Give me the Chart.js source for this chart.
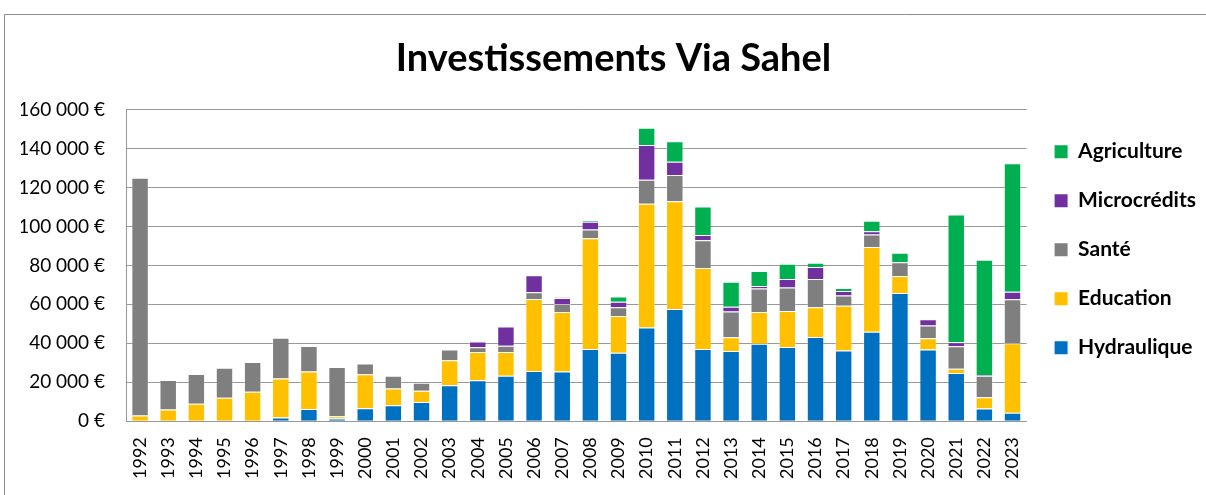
<!DOCTYPE html>
<html>
<head>
<meta charset="utf-8">
<script src="https://cdn.jsdelivr.net/npm/chart.js@4"></script>
<style>
  body { margin: 0; background: #fff; }
  #wrap { position: absolute; left: 0; top: 0; width: 1206px; height: 495px; }
</style>
</head>
<body>
<div id="wrap"><canvas id="investChart" width="1206" height="495"></canvas></div>
<script>
var annees = ["1992", "1993", "1994", "1995", "1996", "1997", "1998", "1999", "2000", "2001",
  "2002", "2003", "2004", "2005", "2006", "2007", "2008", "2009", "2010", "2011",
  "2012", "2013", "2014", "2015", "2016", "2017", "2018", "2019", "2020", "2021",
  "2022", "2023"];

var hydraulique = [0, 0, 0, 0, 0, 1900, 6300, 1400, 6700, 8200,
  9900, 18500, 21000, 23300, 25800, 25500, 37100, 35100, 48100, 57600,
  37100, 36100, 39800, 38100, 43300, 36300, 46000, 65800, 36800, 24800,
  6500, 4300];
var education = [3000, 6000, 9000, 12100, 15200, 20100, 19300, 1200, 17400, 8600,
  5700, 12800, 14600, 12300, 37000, 30600, 56800, 18900, 63600, 55300,
  41600, 7000, 16300, 18500, 15200, 23000, 43400, 8800, 5800, 2200,
  5800, 35700];
var sante = [122000, 15200, 15300, 15300, 15200, 20900, 13000, 25300, 5500, 6600,
  4200, 5500, 2400, 3200, 3400, 4100, 4600, 4500, 12300, 13500,
  14200, 13300, 12100, 12100, 14500, 5200, 6500, 7000, 6600, 11500,
  11100, 22600];
var microcredits = [0, 0, 0, 0, 0, 0, 0, 0, 0, 0,
  0, 0, 2900, 9900, 8700, 3100, 3900, 2900, 17800, 6800,
  2700, 2400, 1200, 4300, 6200, 2400, 1700, 0, 3100, 2000,
  400, 3900];
var agriculture = [0, 0, 0, 0, 0, 0, 0, 0, 0, 0,
  0, 0, 0, 0, 0, 300, 700, 2600, 8900, 10600,
  14700, 12800, 7700, 7900, 2200, 1500, 5300, 4900, 0, 65700,
  59100, 66000];

var yTicksMax = 160000;
var yTicksStep = 20000;

function euro(v) {
  return String(v).replace(/\B(?=(\d{3})+(?!\d))/g, ' ') + ' €';
}

// cadre gris du graphique (coin haut gauche)
var cadre = {
  id: 'cadre',
  beforeDraw: function(chart) {
    var ctx = chart.ctx;
    ctx.save();
    ctx.fillStyle = '#fff';
    ctx.fillRect(0, 0, chart.width, chart.height);
    ctx.strokeStyle = '#8c8c8c';
    ctx.lineWidth = 1;
    ctx.beginPath();
    ctx.moveTo(4.5, chart.height);
    ctx.lineTo(4.5, 14.5);
    ctx.lineTo(chart.width, 14.5);
    ctx.stroke();
    ctx.restore();
  }
};

var police = "Lato, 'Open Sans', sans-serif";
var gris = '#989898';
var liseré = 'rgba(255,255,255,0.35)';

var ctx = document.getElementById("investChart").getContext('2d');
var chartInvest = new Chart(ctx, {
  type: 'bar',
  data: {
    labels: annees,
    datasets: [
      { label: 'Hydraulique', data: hydraulique, backgroundColor: '#0070C0' },
      { label: 'Education', data: education, backgroundColor: '#FFC000' },
      { label: 'Santé', data: sante, backgroundColor: '#7F7F7F' },
      { label: 'Microcrédits', data: microcredits, backgroundColor: '#7030A0' },
      { label: 'Agriculture', data: agriculture, backgroundColor: '#00B050' }
    ]
  },
  options: {
    responsive: false,
    animation: false,
    layout: { padding: { left: 21, right: 0, top: 0, bottom: 0 } },
    datasets: {
      bar: { categoryPercentage: 1, barPercentage: 0.62, borderWidth: 1, borderColor: liseré }
    },
    plugins: {
      title: {
        display: true,
        text: 'Investissements Via Sahel',
        color: '#000',
        font: { family: police, size: 38, weight: 'bold' },
        padding: { top: 36, bottom: 28 }
      },
      legend: {
        position: 'right',
        align: 'start',
        reverse: true,
        title: { display: true, text: '', font: { size: 1 }, padding: { top: 112, bottom: 0 } },
        labels: {
          color: '#000',
          font: { family: police, size: 21, weight: 'bold' },
          boxWidth: 13,
          boxHeight: 13,
          padding: 28,
          generateLabels: function(chart) {
            var items = Chart.defaults.plugins.legend.labels.generateLabels(chart);
            items.forEach(function(it) { it.lineWidth = 0; });
            return items;
          }
        }
      },
      tooltip: { enabled: false }
    },
    scales: {
      x: {
        stacked: true,
        grid: { display: false, drawTicks: false },
        border: { display: true, color: gris },
        ticks: {
          color: '#000',
          maxRotation: 90,
          minRotation: 90,
          autoSkip: false,
          padding: 16,
          font: { family: police, size: 18 }
        }
      },
      y: {
        stacked: true,
        min: 0,
        max: yTicksMax,
        afterFit: function(scale) { scale.width = 105; },
        grid: { color: gris, drawTicks: false },
        border: { display: true, color: gris },
        ticks: {
          stepSize: yTicksStep,
          color: '#000',
          padding: 21,
          font: { family: police, size: 19 },
          callback: function(v) { return euro(v); }
        }
      }
    }
  },
  plugins: [cadre]
});
</script>
</body>
</html>
